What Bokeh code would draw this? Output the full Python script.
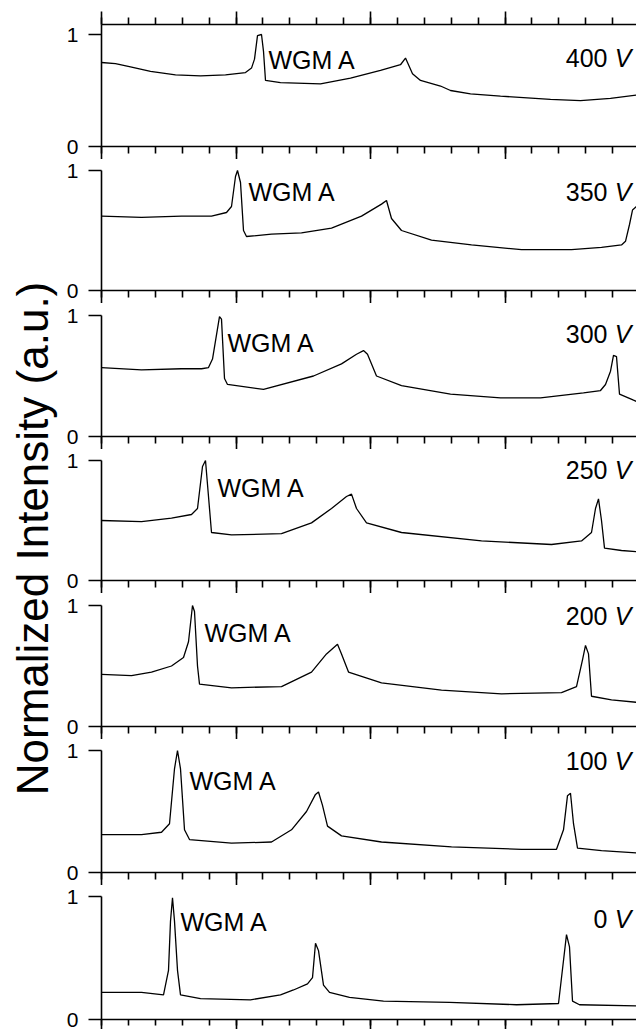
from math import pi
from bokeh.plotting import figure
from bokeh.layouts import row, column
from bokeh.models import Range1d, FixedTicker, LinearAxis, ColumnDataSource
from bokeh.core.properties import value
from bokeh.embed import file_html
from bokeh.resources import INLINE

FONT = "Liberation Sans"

# ---- data (x: position along the spectrum axis, y: normalized intensity) ----
voltages = ["400", "350", "300", "250", "200", "100", "0"]

x_400 = [0, 14, 29, 49, 74, 99, 124, 144, 150, 153, 156, 160, 162, 164, 179, 219, 249, 279, 299, 304, 311, 319, 339, 349, 369, 399, 449, 479, 509, 535]
y_400 = [0.75, 0.74, 0.71, 0.67, 0.64, 0.63, 0.64, 0.66, 0.70, 0.78, 0.99, 1.0, 0.85, 0.59, 0.57, 0.56, 0.61, 0.68, 0.73, 0.79, 0.65, 0.59, 0.54, 0.50, 0.47, 0.45, 0.42, 0.41, 0.43, 0.46]

x_350 = [0, 40, 80, 110, 125, 130, 134, 136, 139, 142, 145, 170, 200, 230, 260, 280, 285, 290, 300, 330, 370, 420, 470, 500, 520, 524, 528, 531, 535]
y_350 = [0.62, 0.61, 0.62, 0.62, 0.65, 0.70, 0.95, 1.0, 0.9, 0.5, 0.45, 0.47, 0.48, 0.52, 0.62, 0.72, 0.75, 0.60, 0.50, 0.42, 0.38, 0.34, 0.34, 0.36, 0.38, 0.41, 0.55, 0.67, 0.70]

x_300 = [0, 40, 80, 100, 107, 111, 118, 120, 123, 126, 162, 212, 240, 255, 262, 266, 275, 300, 349, 399, 439, 482, 499, 504, 509, 512, 515, 518, 532, 535]
y_300 = [0.57, 0.55, 0.56, 0.56, 0.57, 0.64, 0.99, 0.97, 0.48, 0.43, 0.39, 0.50, 0.60, 0.68, 0.71, 0.68, 0.50, 0.42, 0.35, 0.32, 0.32, 0.36, 0.38, 0.43, 0.54, 0.67, 0.66, 0.35, 0.30, 0.29]

x_250 = [0, 40, 70, 90, 96, 101, 104, 107, 110, 130, 180, 210, 230, 245, 250, 255, 265, 300, 380, 450, 480, 490, 494, 497, 500, 503, 520, 535]
y_250 = [0.50, 0.49, 0.52, 0.55, 0.60, 0.95, 1.0, 0.70, 0.40, 0.38, 0.39, 0.48, 0.60, 0.70, 0.72, 0.60, 0.48, 0.40, 0.33, 0.30, 0.33, 0.40, 0.60, 0.68, 0.50, 0.27, 0.25, 0.24]

x_200 = [0, 30, 50, 70, 82, 87, 91, 93, 96, 98, 130, 180, 210, 225, 236, 240, 247, 280, 340, 400, 460, 475, 481, 484, 487, 490, 510, 535]
y_200 = [0.43, 0.42, 0.45, 0.50, 0.57, 0.70, 1.0, 0.95, 0.50, 0.35, 0.32, 0.33, 0.45, 0.60, 0.68, 0.60, 0.45, 0.36, 0.30, 0.27, 0.28, 0.33, 0.55, 0.67, 0.60, 0.25, 0.22, 0.20]

x_100 = [0, 40, 60, 68, 73, 76, 79, 83, 88, 130, 170, 190, 205, 214, 217, 221, 226, 240, 280, 350, 420, 455, 462, 466, 469, 472, 476, 500, 535]
y_100 = [0.31, 0.31, 0.33, 0.40, 0.85, 1.0, 0.85, 0.35, 0.27, 0.24, 0.25, 0.35, 0.50, 0.64, 0.66, 0.55, 0.38, 0.30, 0.25, 0.21, 0.19, 0.19, 0.35, 0.63, 0.65, 0.40, 0.20, 0.18, 0.16]

x_0 = [0, 40, 62, 67, 69, 71, 73, 76, 79, 99, 149, 179, 192, 206, 211, 214, 215, 217, 222, 228, 248, 282, 348, 415, 457, 462, 465, 468, 471, 478, 535]
y_0 = [0.22, 0.22, 0.20, 0.40, 0.80, 0.99, 0.80, 0.40, 0.20, 0.17, 0.16, 0.20, 0.24, 0.29, 0.34, 0.62, 0.60, 0.56, 0.28, 0.22, 0.18, 0.15, 0.14, 0.12, 0.13, 0.48, 0.69, 0.59, 0.15, 0.12, 0.11]

series_x = [x_400, x_350, x_300, x_250, x_200, x_100, x_0]
series_y = [y_400, y_350, y_300, y_250, y_200, y_100, y_0]

# label anchor positions (x, y in data units of each panel)
wgm_x = [167, 147, 126, 116, 103, 88, 79]
wgm_y = [0.77, 0.825, 0.77, 0.775, 0.77, 0.75, 0.79]
volt_y = [0.786, 0.817, 0.843, 0.925, 0.917, 0.91, 0.82]

# ---- layout (pixels) ----
LABEL_W = 60
PANEL_W = 636 - LABEL_W
LEFT = 101 - LABEL_W
X_END = 535
heights = [159, 144, 146, 144, 146, 146, 144]
tops = [24, 0, 0, 0, 0, 0, 0]
bottoms = [13, 13, 13, 13, 13, 13, 10]
px_per_unit = [112, 120, 121, 120, 121, 122, 123]

major = [i * 134.5 for i in range(5)]
minor = [i * 26.9 for i in range(21)]

panels = []
for k in range(7):
    frame_h = heights[k] - tops[k] - bottoms[k]
    y_end = frame_h / px_per_unit[k]
    p = figure(width=PANEL_W, height=heights[k], x_range=Range1d(0, X_END),
               y_range=Range1d(0, y_end), output_backend="svg",
               toolbar_location=None, min_border=0, min_border_left=LEFT,
               min_border_right=0, min_border_top=tops[k],
               min_border_bottom=bottoms[k])
    p.outline_line_color = None
    p.grid.visible = False
    p.background_fill_color = "white"
    p.border_fill_color = "white"

    src = ColumnDataSource(dict(x=series_x[k], y=series_y[k]))
    p.line("x", "y", source=src, line_color="black", line_width=1.3)

    # x axes (ticks only, labels hidden)
    tick_out = 13 if k < 6 else 10
    axes_x = [p.xaxis[0]]
    if k == 0:
        top_ax = LinearAxis()
        p.add_layout(top_ax, "above")
        axes_x.append(top_ax)
    for ax in axes_x:
        ax.ticker = FixedTicker(ticks=major, minor_ticks=minor)
        ax.major_tick_in = 0
        ax.minor_tick_in = 0
        ax.major_tick_out = tick_out
        ax.minor_tick_out = 7 if k < 6 else 6
        ax.major_label_text_font_size = "0px"
        ax.major_label_standoff = 0
        ax.axis_line_width = 1.6
        ax.major_tick_line_width = 1.6
        ax.minor_tick_line_width = 1.6
        ax.axis_line_color = "black"

    ya = p.yaxis[0]
    ya.ticker = FixedTicker(ticks=[0, 1], minor_ticks=[])
    if k > 0:
        ya.bounds = (0, 1)
    ya.major_tick_in = 0
    ya.major_tick_out = 13
    ya.minor_tick_out = 0
    ya.major_label_standoff = 10
    ya.major_label_text_font = FONT
    ya.major_label_text_font_size = "21px"
    ya.major_label_text_color = "black"
    ya.axis_line_width = 1.6
    ya.major_tick_line_width = 1.6

    # annotations
    p.text(x=[wgm_x[k]], y=[wgm_y[k]], text=["WGM A"], text_font=value(FONT),
           text_font_size="25px", text_baseline="alphabetic", text_align="left",
           text_color="black")
    p.text(x=[530], y=[volt_y[k]], text=["V"], text_font=value(FONT),
           text_font_style="italic", text_font_size="25px",
           text_baseline="alphabetic", text_align="right", text_color="black")
    p.text(x=[530], y=[volt_y[k]], text=[voltages[k]], x_offset=-24,
           text_font=value(FONT), text_font_size="25px",
           text_baseline="alphabetic", text_align="right", text_color="black")
    panels.append(p)

lab = figure(width=LABEL_W, height=1029, x_range=Range1d(0, LABEL_W),
             y_range=Range1d(0, 1029), output_backend="svg",
             toolbar_location=None, min_border=0,
             x_axis_location=None, y_axis_location=None)
lab.outline_line_color = None
lab.grid.visible = False
lab.text(x=[32], y=[1029 - 538], text=["Normalized Intensity (a.u.)"], angle=pi / 2,
         text_font=value(FONT), text_font_size="44px", text_align="center",
         text_baseline="middle", text_color="black")

layout = row(lab, column(*panels, spacing=0), spacing=0)
open("out.html", "w").write(file_html(layout, INLINE))
